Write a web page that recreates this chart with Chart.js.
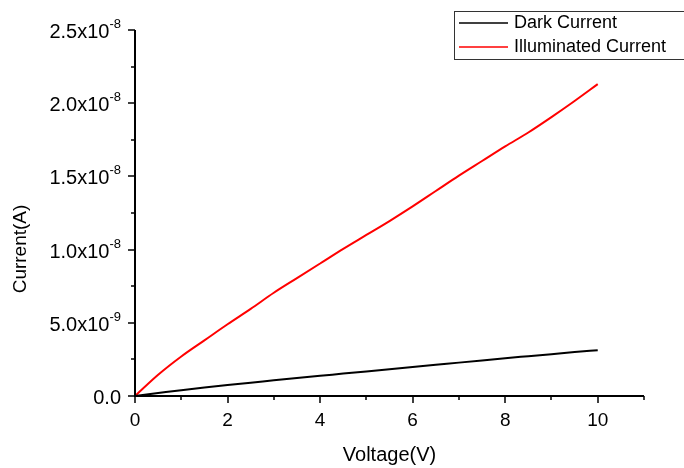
<!DOCTYPE html>
<html>
<head>
<meta charset="utf-8">
<script src="https://cdn.jsdelivr.net/npm/chart.js@4/dist/chart.umd.min.js"></script>
<style>
    html, body { margin: 0; padding: 0; background: #ffffff; }
    #wrap { width: 684px; height: 468px; }
</style>
</head>
<body>
<div id="wrap"><canvas id="ivChart" width="684" height="468"></canvas></div>
<script>
// Donnees (tension en V, courant en A)
var voltage = [0, 0.5, 1, 1.5, 2, 2.5, 3, 3.5, 4, 4.5, 5, 5.5, 6, 6.5, 7, 7.5, 8, 8.5, 9, 9.5, 10];
var darkCurrent = [0, 0.20e-9, 0.40e-9, 0.58e-9, 0.75e-9, 0.91e-9, 1.07e-9, 1.23e-9, 1.38e-9, 1.53e-9, 1.68e-9,
    1.83e-9, 1.98e-9, 2.13e-9, 2.28e-9, 2.43e-9, 2.58e-9, 2.72e-9, 2.86e-9, 3.00e-9, 3.13e-9];
var illumCurrent = [0, 0.145e-8, 0.27e-8, 0.38e-8, 0.49e-8, 0.595e-8, 0.705e-8, 0.805e-8, 0.905e-8, 1.005e-8, 1.10e-8,
    1.195e-8, 1.295e-8, 1.40e-8, 1.505e-8, 1.605e-8, 1.705e-8, 1.80e-8, 1.905e-8, 2.015e-8, 2.13e-8];
var seriesNames = ['Dark Current', 'Illuminated Current'];

// Graduations
var xTicks = [0, 2, 4, 6, 8, 10];
var xMinorTicks = [1, 3, 5, 7, 9, 11];
var yTicks = [0, 0.5e-8, 1.0e-8, 1.5e-8, 2.0e-8, 2.5e-8];
var yTickMantissa = ['0.0', '5.0x10', '1.0x10', '1.5x10', '2.0x10', '2.5x10'];
var yTickExponent = ['', '-9', '-8', '-8', '-8', '-8'];
var yMinorTicks = [0.25e-8, 0.75e-8, 1.25e-8, 1.75e-8, 2.25e-8];

function toPoints(xs, ys) {
    var pts = [];
    for (var i = 0; i < xs.length; i++) {
        pts.push({ x: xs[i], y: ys[i] });
    }
    return pts;
}

var FONT = '"Liberation Sans", Arial, sans-serif';

// Axes, graduations, titres et legende dessines a la maniere d'Origin
var originAxes = {
    id: 'originAxes',
    afterDraw: function(chart) {
        var ctx = chart.ctx;
        var xs = chart.scales.x;
        var ys = chart.scales.y;
        var area = chart.chartArea;
        ctx.save();
        ctx.strokeStyle = '#000000';
        ctx.fillStyle = '#000000';
        ctx.lineWidth = 2;

        // lignes d'axe
        ctx.beginPath();
        ctx.moveTo(area.left, area.top);
        ctx.lineTo(area.left, area.bottom);
        ctx.lineTo(area.right, area.bottom);
        ctx.stroke();

        // graduations X
        ctx.lineWidth = 1.5;
        ctx.beginPath();
        xTicks.forEach(function(v) {
            var px = Math.round(xs.getPixelForValue(v));
            ctx.moveTo(px, area.bottom);
            ctx.lineTo(px, area.bottom + 7);
        });
        xMinorTicks.forEach(function(v) {
            var px = Math.round(xs.getPixelForValue(v));
            ctx.moveTo(px, area.bottom);
            ctx.lineTo(px, area.bottom + 4);
        });
        // graduations Y
        yTicks.forEach(function(v) {
            var py = Math.round(ys.getPixelForValue(v));
            ctx.moveTo(area.left, py);
            ctx.lineTo(area.left - 7, py);
        });
        yMinorTicks.forEach(function(v) {
            var py = Math.round(ys.getPixelForValue(v));
            ctx.moveTo(area.left, py);
            ctx.lineTo(area.left - 4, py);
        });
        ctx.stroke();

        // etiquettes X
        ctx.font = '19px ' + FONT;
        ctx.textAlign = 'center';
        ctx.textBaseline = 'middle';
        xTicks.forEach(function(v) {
            ctx.fillText(String(v), xs.getPixelForValue(v), area.bottom + 25);
        });

        // etiquettes Y avec exposant
        ctx.textBaseline = 'alphabetic';
        yTicks.forEach(function(v, i) {
            var py = ys.getPixelForValue(v);
            var xr = area.left - 14;
            ctx.font = '13px ' + FONT;
            var ew = yTickExponent[i] ? ctx.measureText(yTickExponent[i]).width : 0;
            if (yTickExponent[i]) {
                ctx.textAlign = 'right';
                ctx.fillText(yTickExponent[i], xr, py - 2);
            }
            ctx.font = '20px ' + FONT;
            ctx.textAlign = 'right';
            ctx.fillText(yTickMantissa[i], xr - ew, py + 8);
        });

        // titres d'axes
        ctx.font = '20px ' + FONT;
        ctx.textAlign = 'center';
        ctx.textBaseline = 'middle';
        ctx.fillText('Voltage(V)', (area.left + area.right) / 2, 455);
        ctx.font = '19px ' + FONT;
        ctx.save();
        ctx.translate(21, 249);
        ctx.rotate(-Math.PI / 2);
        ctx.fillText('Current(A)', 0, 0);
        ctx.restore();

        // legende
        ctx.font = '18px ' + FONT;
        ctx.lineWidth = 1;
        ctx.strokeStyle = '#333333';
        ctx.strokeRect(454.5, 11.5, 240, 48);
        ctx.textAlign = 'left';
        chart.data.datasets.forEach(function(ds, i) {
            var ly = 23 + i * 24;
            ctx.strokeStyle = ds.borderColor;
            ctx.lineWidth = 1.5;
            ctx.beginPath();
            ctx.moveTo(459, ly);
            ctx.lineTo(508, ly);
            ctx.stroke();
            ctx.fillStyle = '#000000';
            ctx.fillText(ds.label, 514, ly);
        });
        ctx.restore();
    }
};

var ctxIV = document.getElementById('ivChart').getContext('2d');
var ivChart = new Chart(ctxIV, {
    type: 'line',
    data: {
        datasets: [{
            label: seriesNames[0],
            data: toPoints(voltage, darkCurrent),
            borderColor: '#000000',
            borderWidth: 2,
            pointRadius: 0,
            cubicInterpolationMode: 'monotone',
            fill: false
        }, {
            label: seriesNames[1],
            data: toPoints(voltage, illumCurrent),
            borderColor: '#ff0000',
            borderWidth: 2,
            pointRadius: 0,
            cubicInterpolationMode: 'monotone',
            fill: false
        }]
    },
    options: {
        responsive: false,
        animation: false,
        layout: { padding: { top: 30, right: 40, bottom: 0, left: 0 } },
        plugins: {
            legend: { display: false },
            tooltip: { enabled: false }
        },
        scales: {
            x: {
                type: 'linear',
                min: 0,
                max: 11,
                grid: { display: false },
                border: { display: false },
                ticks: { display: false },
                afterFit: function(scale) { scale.height = 72; }
            },
            y: {
                type: 'linear',
                min: 0,
                max: 2.5e-8,
                grid: { display: false },
                border: { display: false },
                ticks: { display: false },
                afterFit: function(scale) { scale.width = 135; }
            }
        }
    },
    plugins: [originAxes]
});
</script>
</body>
</html>
